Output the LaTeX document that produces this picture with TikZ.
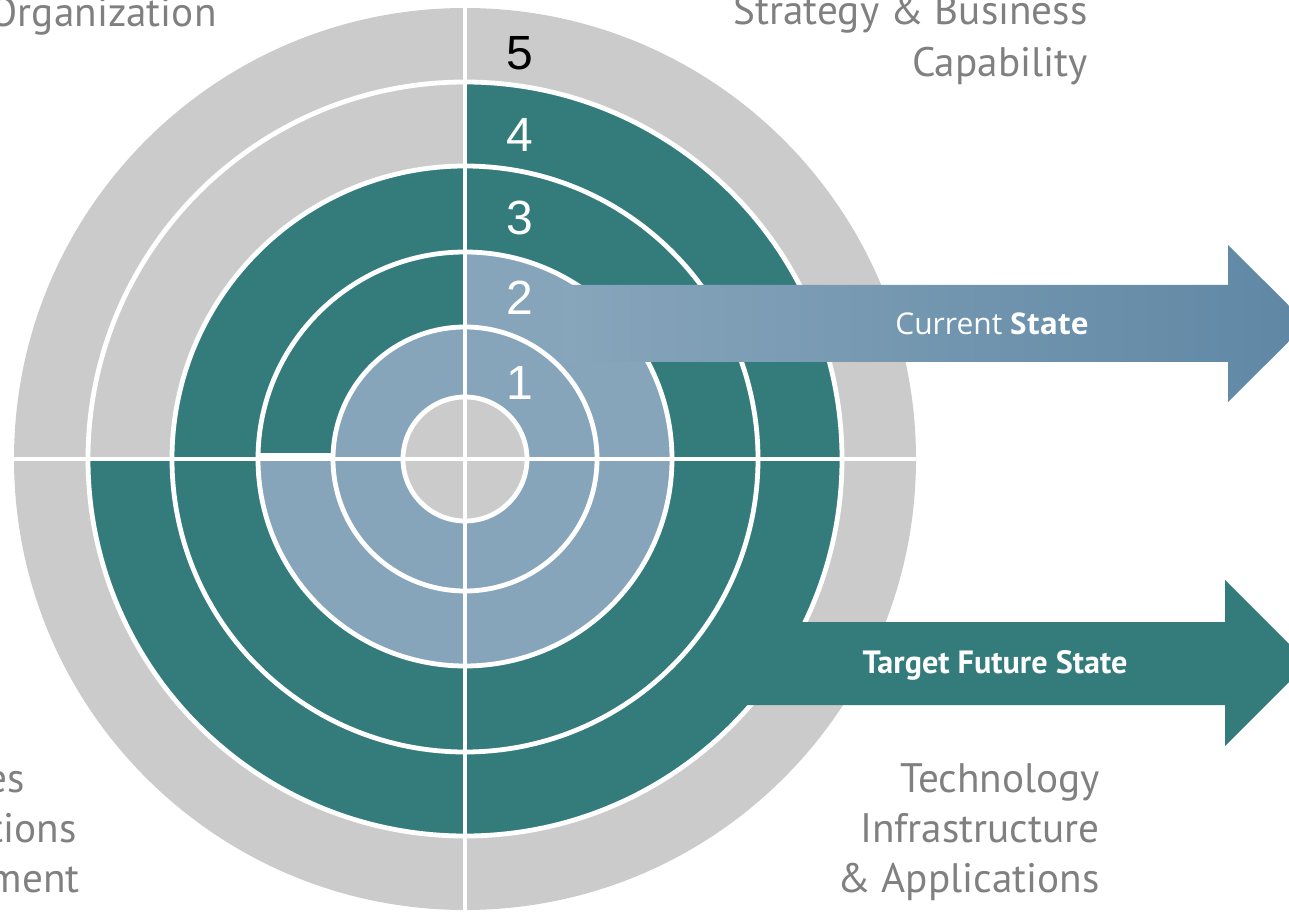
\documentclass[tikz,border=0pt]{standalone}
\usepackage{fontspec}
\setmainfont{PT Sans}
\newfontfamily\numfont{Liberation Sans}
\newfontfamily\curfont{Open Sans}
\definecolor{ringteal}{HTML}{347B7C}
\definecolor{ringblue}{HTML}{87A5BA}
\definecolor{ringgrey}{HTML}{CBCBCB}
\definecolor{labelgrey}{HTML}{808080}
\definecolor{arrowL}{HTML}{87A5BB}
\definecolor{arrowM}{HTML}{92AEC6}
\definecolor{arrowR}{HTML}{5F87A4}
\tikzset{
  ringline/.style={draw=white,line width=2.4pt},
  axisline/.style={draw=white,line width=2pt},
  lbl/.style={text=labelgrey,font=\fontsize{20.6}{24}\selectfont,inner sep=0pt,anchor=base east},
  num/.style={text=white,font=\numfont\fontsize{24}{28}\selectfont,inner sep=0pt},
  arrowtext/.style={text=white,inner sep=0pt}
}
\begin{document}
\begin{tikzpicture}[x=0.5pt,y=0.5pt]
\useasboundingbox (0,0) rectangle (1289,911);
\clip (0,0) rectangle (1289,911);
\coordinate (c) at (465,452);
\newcommand\ringsect[4]{\fill[#1] (c) -- ++(#2:#4) arc[start angle=#2,end angle=#3,radius=#4] -- cycle;}
% outer disc
\fill[ringgrey] (c) circle[radius=451];
% top right
\ringsect{ringteal}{0}{90}{377}
\ringsect{ringblue}{0}{90}{207}
% top left
\ringsect{ringteal}{90}{180}{293}
\ringsect{ringblue}{90}{180}{132}
% bottom left
\ringsect{ringteal}{180}{270}{377}
\ringsect{ringblue}{180}{270}{207}
% bottom right
\ringsect{ringteal}{270}{360}{377}
\ringsect{ringblue}{270}{360}{207}
% centre
\fill[ringgrey] (c) circle[radius=62];
% white rings
\foreach \r in {62,132,207,293,377} {\draw[ringline] (c) circle[radius=\r];}
% axes
\draw[axisline] (465,0) -- (465,911);
\draw[axisline] (14,452) -- (916,452);
\fill[white] (258,450) rectangle (333,458);
% numbers
\node[num,text=black] (n5) at (520,858) {5};
\node[num] (n4) at (520,776) {4};
\node[num] (n3) at (520,693) {3};
\node[num] (n2) at (520,613) {2};
\node[num] (n1) at (520,528) {1};
% current state arrow
\shade[left color=arrowL,middle color=arrowM,right color=arrowR]
  (565,626) -- (1228,626) -- (1228,666) -- (1307,587.5) -- (1228,509) -- (1228,549) -- (565,549) -- cycle;
\node[arrowtext,font=\curfont\fontsize{15}{18}\selectfont] (cur) at (992,587) {Current \textbf{State}};
% target future state arrow
\fill[ringteal] (735,289) -- (1225,289) -- (1225,331) -- (1308,248) -- (1225,165) -- (1225,206) -- (735,206) -- cycle;
\node[arrowtext,font=\bfseries\fontsize{16.1}{18}\selectfont] (tgt) at (995,246) {Target Future State};
% labels
\node[lbl] (org) at (217,884) {Organization};
\node[lbl] (str1) at (1088,886) {Strategy \& Business};
\node[lbl] (str2) at (1088,834) {Capability};
\node[lbl] (tec1) at (1100,119) {Technology};
\node[lbl] (tec2) at (1100,69) {Infrastructure};
\node[lbl] (tec3) at (1100,19) {\& Applications};
\node[lbl] (bl1) at (25,119) {es};
\node[lbl] (bl2) at (77,69) {tions};
\node[lbl] (bl3) at (80,19) {ment};
\end{tikzpicture}
\end{document}
